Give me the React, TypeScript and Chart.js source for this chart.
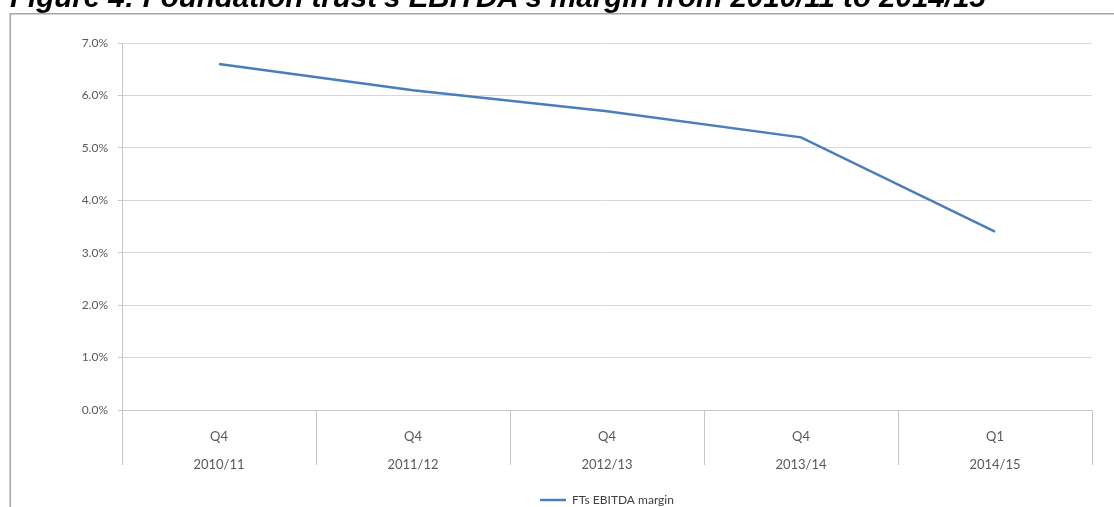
import { useEffect, useRef } from "react";
import { Chart, registerables } from "chart.js";

Chart.register(...registerables);

// Series and axis content
const quarterLabels = ["Q4", "Q4", "Q4", "Q4", "Q1"];
const yearLabels = ["2010/11", "2011/12", "2012/13", "2013/14", "2014/15"];
const marginValues = [6.6, 6.1, 5.7, 5.2, 3.4];
const seriesLabel = "FTs EBITDA margin";
const figureTitle = "Figure 4: Foundation trust's EBITDA's margin from 2010/11 to 2014/15";
const yMin = 0;
const yMax = 7;
const yStep = 1;

const WIDTH = 1114;
const HEIGHT = 507;

const LINE_BLUE = "#4a7ebb";
const GRID_GREY = "#d9d9d9";
const AXIS_GREY = "#c6c6c6";
const LABEL_GREY = "#595959";
const SEPARATOR_DEPTH = 55;

// Heading text and the outer frame around the figure
const framePlugin = {
  id: "figureFrame",
  beforeDraw(chart: any) {
    const { ctx, width, height } = chart;
    ctx.save();
    ctx.fillStyle = "#ffffff";
    ctx.fillRect(0, 0, width, height);
    ctx.fillStyle = "#000000";
    ctx.font = "italic bold 29.5px 'Liberation Sans', Arial, sans-serif";
    ctx.textBaseline = "alphabetic";
    ctx.textAlign = "left";
    ctx.fillText(figureTitle, 10, 7);
    ctx.strokeStyle = "#a6a6a6";
    ctx.lineWidth = 1.5;
    ctx.beginPath();
    ctx.moveTo(10.25, height);
    ctx.lineTo(10.25, 13.75);
    ctx.lineTo(width, 13.75);
    ctx.stroke();
    ctx.restore();
  },
};

// Vertical dividers between the category cells under the x axis
const categoryDividers = {
  id: "categoryDividers",
  afterDraw(chart: any) {
    const xScale = chart.scales.x;
    const { ctx, chartArea } = chart;
    const n = xScale.ticks.length;
    if (n < 2) return;
    const half = (xScale.getPixelForValue(1) - xScale.getPixelForValue(0)) / 2;
    ctx.save();
    ctx.strokeStyle = AXIS_GREY;
    ctx.lineWidth = 1;
    ctx.beginPath();
    for (let i = 0; i <= n; i++) {
      const px =
        i < n ? xScale.getPixelForValue(i) - half : xScale.getPixelForValue(n - 1) + half;
      const x = Math.round(px) + 0.5;
      ctx.moveTo(x, chartArea.bottom);
      ctx.lineTo(x, chartArea.bottom + SEPARATOR_DEPTH);
    }
    ctx.stroke();
    ctx.restore();
  },
};

export default function App() {
  const canvasRef = useRef<HTMLCanvasElement | null>(null);

  useEffect(() => {
    const canvas = canvasRef.current;
    if (!canvas) return;
    const chart = new Chart(canvas, {
      type: "line",
      data: {
        labels: quarterLabels.map((q, i) => [q, yearLabels[i]]),
        datasets: [
          {
            label: seriesLabel,
            data: marginValues,
            borderColor: LINE_BLUE,
            backgroundColor: LINE_BLUE,
            borderWidth: 2.5,
            pointRadius: 0,
            pointHoverRadius: 0,
            tension: 0,
            fill: false,
          },
        ],
      },
      options: {
        responsive: false,
        animation: false,
        events: [],
        layout: { padding: { left: 0, right: 22, top: 43, bottom: -9 } },
        scales: {
          x: {
            type: "category",
            offset: true,
            grid: { display: false },
            border: { display: true, color: AXIS_GREY, width: 1 },
            ticks: {
              autoSkip: false,
              maxRotation: 0,
              minRotation: 0,
              padding: 5,
              color: LABEL_GREY,
              font: { family: "Lato", size: 13, lineHeight: "28px" },
            },
            afterFit(scale: any) {
              scale.height = 82;
            },
          },
          y: {
            min: yMin,
            max: yMax,
            ticks: {
              stepSize: yStep,
              padding: 10,
              color: LABEL_GREY,
              font: { family: "Lato", size: 12 },
              callback: (v: any) => Number(v).toFixed(1) + "%",
            },
            grid: { color: GRID_GREY, lineWidth: 1, tickLength: 4, tickColor: AXIS_GREY },
            border: { display: true, color: AXIS_GREY, width: 1 },
            afterFit(scale: any) {
              scale.width = 122;
            },
          },
        },
        plugins: {
          title: { display: false },
          tooltip: { enabled: false },
          legend: {
            display: true,
            position: "bottom",
            fullSize: false,
            labels: {
              usePointStyle: true,
              pointStyle: "line",
              pointStyleWidth: 26,
              padding: 2,
              color: "#404040",
              font: { family: "Lato", size: 12 },
            },
          },
        },
      },
      plugins: [framePlugin, categoryDividers],
    } as any);
    return () => chart.destroy();
  }, []);

  return (
    <div style={{ position: "fixed", left: 0, top: 0, width: WIDTH, height: HEIGHT, background: "#fff" }}>
      <canvas ref={canvasRef} width={WIDTH} height={HEIGHT} style={{ display: "block" }} />
    </div>
  );
}
